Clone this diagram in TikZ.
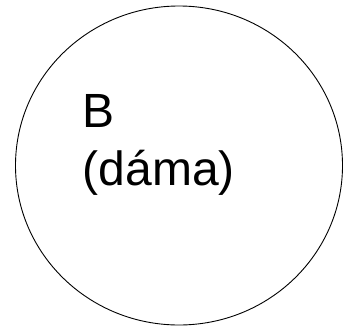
\documentclass[tikz,border=0pt]{standalone}
\usepackage{fontspec}
\setmainfont{Liberation Sans}
\begin{document}
\begin{tikzpicture}[x=1pt,y=1pt,
  bubble/.style={draw=black,line width=0.9pt},
  label/.style={font=\fontsize{48}{58}\selectfont,align=left,inner sep=0pt,anchor=base west}]
\useasboundingbox (0,0) rectangle (343,-330);
\draw[bubble] (179,-165.5) ellipse [x radius=163.5, y radius=159.5];
\node[label] (t) at (82.5,-185.5) {B\\(dáma)};
\end{tikzpicture}
\end{document}
